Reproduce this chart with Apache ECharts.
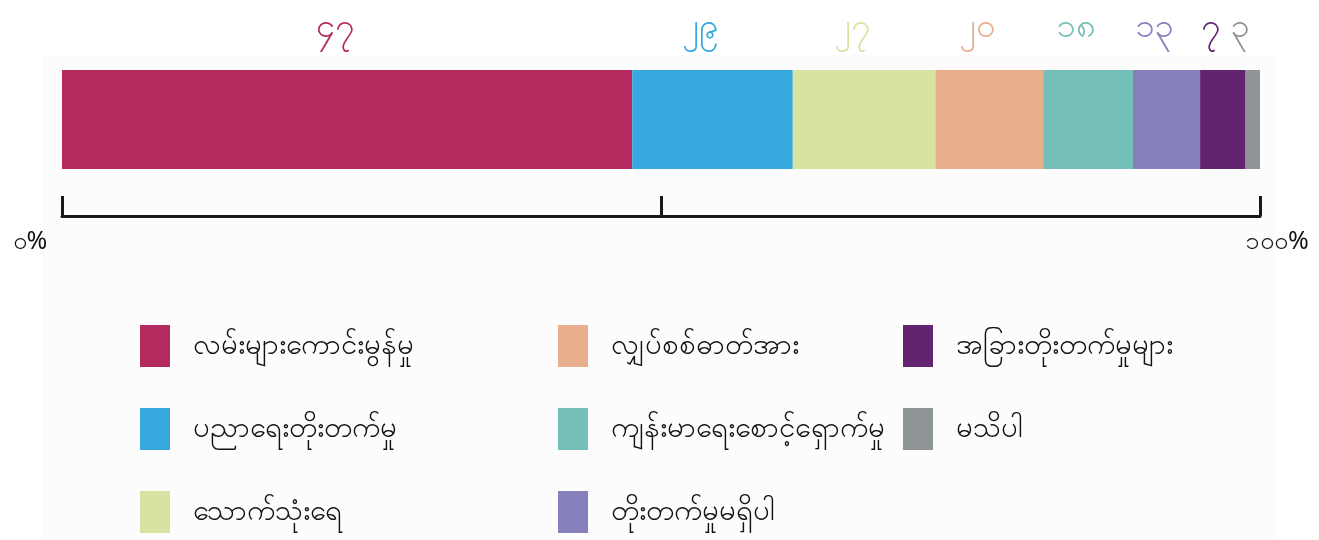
<!DOCTYPE html>
<html>
<head>
<meta charset="utf-8">
<script src="https://cdn.jsdelivr.net/npm/echarts@6/dist/echarts.min.js"></script>
<style>
html,body{margin:0;padding:0;background:#ffffff;}
#chart{width:1319px;height:540px;}
</style>
</head>
<body>
<div id="chart"></div>
<script>
// Data
const categories = ['လမ်းများကောင်းမွန်မှု','ပညာရေးတိုးတက်မှု','သောက်သုံးရေ','လျှပ်စစ်ဓာတ်အား','ကျန်းမာရေးစောင့်ရှောက်မှု','တိုးတက်မှုမရှိပါ','အခြားတိုးတက်မှုများ','မသိပါ'];
const shares = [47.6, 13.4, 11.9, 9.0, 7.5, 5.6, 3.8, 1.2];
const valueLabels = ['၄၇','၂၉','၂၇','၂၀','၁၈','၁၃','၇','၃'];
const tickLabels = {0: '၀%', 100: '၁၀၀%'};
const colors = ['#b42a5f','#37a8e0','#d9e3a1','#e9ae8d','#74c0b9','#8680bc','#62236f','#8f9497'];

const chart = echarts.init(document.getElementById('chart'));
const series = categories.map((name, i) => ({
  name: name,
  type: 'bar',
  stack: 'total',
  barWidth: 99,
  data: [shares[i]],
  itemStyle: {color: colors[i]},
  label: {
    show: true,
    position: 'top',
    distance: 26,
    offset: [-12, 0],
    formatter: () => valueLabels[i],
    color: colors[i],
    fontSize: 34,
    fontFamily: 'Noto Sans, DejaVu Sans, sans-serif'
  }
}));

function legendFor(names, left) {
  return {
    orient: 'vertical',
    left: left,
    top: 325,
    height: 215,
    padding: 0,
    itemWidth: 30,
    itemHeight: 42,
    itemGap: 41,
    icon: 'rect',
    selectedMode: false,
    data: names,
    textStyle: {fontSize: 29, color: '#111', padding: [0,0,0,18], fontFamily: 'Noto Sans, DejaVu Sans, sans-serif'}
  };
}

chart.setOption({
  animation: false,
  color: colors,
  graphic: [{type:'rect', left: 42, top: 55, shape:{width:1233, height:485}, style:{fill:'#fcfcfc'}, z: -10}],
  grid: {left: 62, right: 59, top: 70, height: 99, containLabel: false},
  xAxis: {
    type: 'value', min: 0, max: 100, interval: 50,
    offset: 47,
    splitLine: {show: false},
    axisLine: {show: true, lineStyle: {color: '#1a1a1a', width: 3}},
    axisTick: {show: true, inside: true, length: 20, lineStyle: {color: '#1a1a1a', width: 3}},
    axisLabel: {
      margin: 13,
      fontSize: 25,
      color: '#111',
      fontFamily: 'Noto Sans, DejaVu Sans, sans-serif',
      formatter: v => v === 0 ? '{l|' + tickLabels[0] + '}' : (v === 100 ? '{r|' + tickLabels[100] + '}' : ''),
      rich: {
        l: {fontSize: 25, color: '#111', padding: [0, 64, 0, 0]},
        r: {fontSize: 25, color: '#111', padding: [0, 0, 0, 34]}
      }
    }
  },
  yAxis: {type: 'category', data: [''], show: false},
  legend: [
    legendFor(categories.slice(0,3), 140),
    legendFor(categories.slice(3,6), 558),
    legendFor(categories.slice(6,8), 903)
  ],
  series: series
});
</script>
</body>
</html>
